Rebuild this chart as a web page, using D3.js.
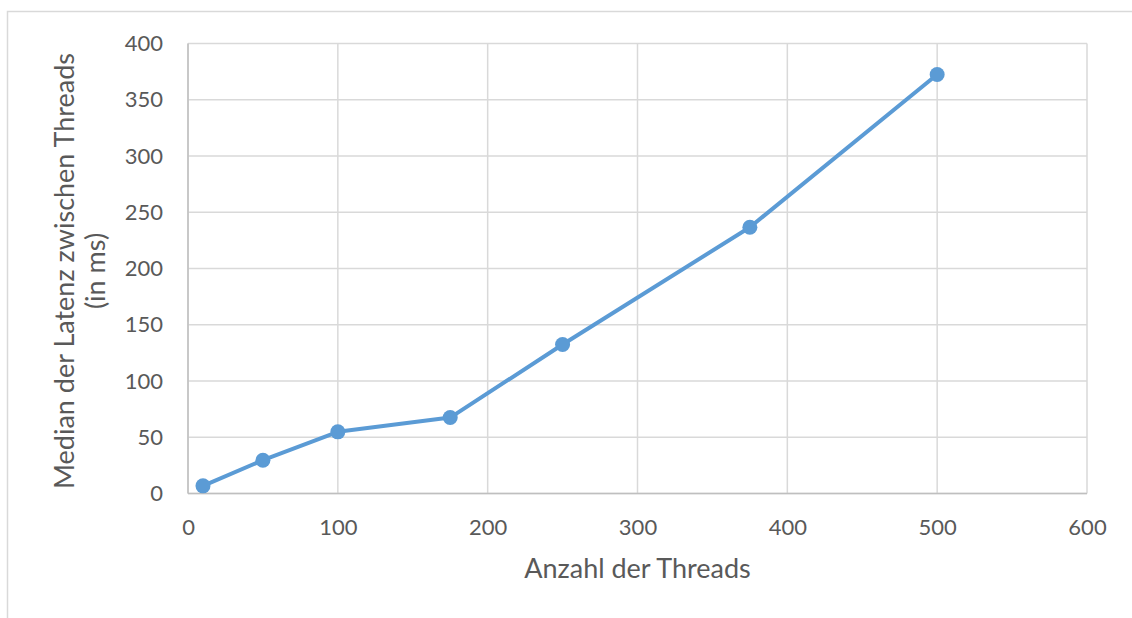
<!DOCTYPE html>
<html>
<head>
<meta charset="utf-8">
<script src="https://cdn.jsdelivr.net/npm/d3@7"></script>
<style>
  html, body { margin: 0; padding: 0; background: #fff; }
  svg { display: block; font-family: Lato, "Open Sans", sans-serif; }
</style>
</head>
<body>
<svg id="chart" width="1132" height="618"></svg>
<script>
// Thread count vs. median inter-thread latency
const threads = [10, 50, 100, 175, 250, 375, 500];
const latencyMs = [6.8, 29.6, 54.8, 67.5, 132.4, 236.7, 372.4];
const xTicks = [0, 100, 200, 300, 400, 500, 600];
const yTicks = [0, 50, 100, 150, 200, 250, 300, 350, 400];
const xTitle = "Anzahl der Threads";
const yTitleLines = ["Median der Latenz zwischen Threads", "(in ms)"];

const svg = d3.select("#chart");
const plot = { left: 188, top: 43.5, right: 1087, bottom: 493.5 };

const x = d3.scaleLinear().domain([0, 600]).range([plot.left, plot.right]);
const y = d3.scaleLinear().domain([0, 400]).range([plot.bottom, plot.top]);

// chart frame
svg.append("rect")
  .attr("x", 7.5).attr("y", 11.5)
  .attr("width", 1140).attr("height", 640)
  .attr("fill", "none").attr("stroke", "#d9d9d9").attr("stroke-width", 1.5);

// gridlines
const grid = svg.append("g").attr("stroke", "#d9d9d9").attr("stroke-width", 1.5);
grid.selectAll("line.h").data(yTicks).join("line").attr("class", "h")
  .attr("x1", plot.left).attr("x2", plot.right)
  .attr("y1", d => y(d)).attr("y2", d => y(d));
grid.selectAll("line.v").data(xTicks).join("line").attr("class", "v")
  .attr("x1", d => x(d)).attr("x2", d => x(d))
  .attr("y1", plot.top).attr("y2", plot.bottom);

// axis lines
svg.append("line")
  .attr("x1", plot.left).attr("x2", plot.right)
  .attr("y1", plot.bottom).attr("y2", plot.bottom)
  .attr("stroke", "#bfbfbf").attr("stroke-width", 1.5);
svg.append("line")
  .attr("x1", plot.left).attr("x2", plot.left)
  .attr("y1", plot.top).attr("y2", plot.bottom)
  .attr("stroke", "#bfbfbf").attr("stroke-width", 1.5);

// axes (labels only)
const xAxis = d3.axisBottom(x).tickValues(xTicks).tickSize(0).tickPadding(26);
const yAxis = d3.axisLeft(y).tickValues(yTicks).tickSize(0).tickPadding(25);

const gx = svg.append("g").attr("transform", `translate(0,${plot.bottom})`).call(xAxis);
const gy = svg.append("g").attr("transform", `translate(${plot.left},0)`).call(yAxis);
[gx, gy].forEach(g => {
  g.select(".domain").remove();
  g.selectAll("text")
    .attr("fill", "#595959")
    .style("font-family", "Lato, 'Open Sans', sans-serif")
    .style("font-size", "22px");
});

// axis titles
svg.append("text")
  .attr("x", (plot.left + plot.right) / 2).attr("y", 578)
  .attr("text-anchor", "middle")
  .attr("fill", "#595959").style("font-size", "27px")
  .text(xTitle);

const yt = svg.append("text")
  .attr("transform", `translate(74,271) rotate(-90)`)
  .attr("text-anchor", "middle")
  .attr("fill", "#595959").style("font-size", "27px");
yTitleLines.forEach((t, i) => {
  yt.append("tspan").attr("x", 0).attr("dy", i === 0 ? 0 : 31).text(t);
});

// series
const data = threads.map((t, i) => ({ t, v: latencyMs[i] }));
const line = d3.line().x(d => x(d.t)).y(d => y(d.v));

svg.append("path")
  .datum(data)
  .attr("d", line)
  .attr("fill", "none")
  .attr("stroke", "#5b9bd5")
  .attr("stroke-width", 4)
  .attr("stroke-linejoin", "round");

svg.selectAll("circle.pt").data(data).join("circle")
  .attr("class", "pt")
  .attr("cx", d => x(d.t)).attr("cy", d => y(d.v))
  .attr("r", 7.5)
  .attr("fill", "#5b9bd5");
</script>
</body>
</html>
